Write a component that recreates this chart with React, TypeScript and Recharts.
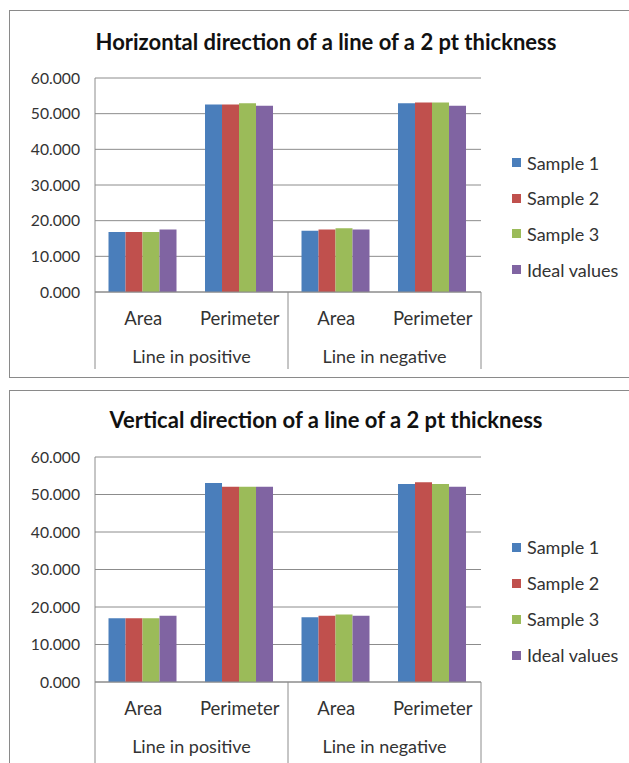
import { BarChart, Bar, XAxis, YAxis, CartesianGrid, Legend } from 'recharts'

const categories = ['Area', 'Perimeter', 'Area', 'Perimeter']
const groups = ['Line in positive', 'Line in positive', 'Line in negative', 'Line in negative']
const seriesNames = ['Sample 1', 'Sample 2', 'Sample 3', 'Ideal values']
const seriesColors = ['#4a7ebb', '#c0504d', '#9bbb59', '#8064a2']
const yTicks = [0, 10, 20, 30, 40, 50, 60]

// horizontal line, 2 pt
const hSample1 = [16.8, 52.6, 17.2, 52.9]
const hSample2 = [16.8, 52.6, 17.5, 53.1]
const hSample3 = [16.8, 52.9, 17.85, 53.1]
const hIdeal = [17.5, 52.2, 17.5, 52.2]

// vertical line, 2 pt
const vSample1 = [17.0, 53.1, 17.3, 52.8]
const vSample2 = [17.0, 52.1, 17.7, 53.3]
const vSample3 = [17.0, 52.1, 18.0, 52.8]
const vIdeal = [17.7, 52.1, 17.7, 52.1]

const FONT = 'Lato, "Open Sans", sans-serif'
const GRID = '#8c8c8c'
const CHART_W = 620
const PLOT_LEFT = 85
const PLOT_W = 386
const BAND = PLOT_W / categories.length

const buildRows = (s1: number[], s2: number[], s3: number[], ideal: number[]) =>
  categories.map((c, i) => ({
    metric: c,
    group: groups[i],
    s1: s1[i],
    s2: s2[i],
    s3: s3[i],
    ideal: ideal[i],
  }))

const keys = ['s1', 's2', 's3', 'ideal']

const MultiTick = (props: any) => {
  const { x, y, payload, index, sepLength } = props
  const half = BAND / 2
  return (
    <g>
      <text x={x} y={y + 26} textAnchor="middle" dominantBaseline="central" fill="#333" fontSize={18.5} fontFamily={FONT}>
        {payload.value}
      </text>
      {index % 2 === 0 && (
        <text x={x + half} y={y + 64} textAnchor="middle" dominantBaseline="central" fill="#333" fontSize={18} fontFamily={FONT}>
          {groups[index]}
        </text>
      )}
      {index === 0 && <line x1={x - half} x2={x - half} y1={y} y2={y + sepLength} stroke={GRID} />}
      {index % 2 === 1 && <line x1={x + half} x2={x + half} y1={y} y2={y + sepLength} stroke={GRID} />}
    </g>
  )
}

const LegendBox = ({ payload, spacing }: any) => {
  const items = [...(payload || [])].sort(
    (a: any, b: any) => seriesNames.indexOf(a.value) - seriesNames.indexOf(b.value),
  )
  return (
    <div style={{ fontFamily: FONT, fontSize: 18, color: '#333' }}>
      {items.map((p: any) => (
        <div key={p.value} style={{ height: spacing, display: 'flex', alignItems: 'center', whiteSpace: 'nowrap' }}>
          <span style={{ width: 9, height: 9, background: p.color, marginRight: 6, display: 'inline-block' }} />
          {p.value}
        </div>
      ))}
    </div>
  )
}

type ChartProps = {
  title: string
  rows: any[]
  top: number
  height: number
  boxHeight: number
  plotTop: number
  plotBottom: number
  titleY: number
  legendTop: number
  legendSpacing: number
  sepLength: number
}

const Chart = ({ title, rows, top, height, boxHeight, plotTop, plotBottom, titleY, legendTop, legendSpacing, sepLength }: ChartProps) => (
  <div
    style={{
      position: 'absolute',
      left: 9,
      top,
      width: 640,
      height: boxHeight,
      border: '1px solid #8a8a8a',
      background: '#fff',
    }}
  >
    <div
      style={{
        position: 'absolute',
        left: 0,
        width: CHART_W + 12,
        top: titleY - 14,
        height: 28,
        lineHeight: '28px',
        textAlign: 'center',
        fontFamily: FONT,
        fontWeight: 700,
        fontSize: 22,
        color: '#111',
      }}
    >
      {title}
    </div>
    <BarChart
      width={CHART_W}
      height={height}
      data={rows}
      barGap={0}
      barCategoryGap="14%"
      margin={{ top: plotTop, right: CHART_W - PLOT_LEFT - PLOT_W, bottom: 0, left: 5 }}
    >
      <CartesianGrid vertical={false} stroke={GRID} />
      <XAxis
        dataKey="metric"
        interval={0}
        tickLine={false}
        tickSize={0}
        tickMargin={0}
        height={height - plotBottom}
        axisLine={{ stroke: GRID }}
        tick={(p: any) => <MultiTick {...p} sepLength={sepLength} />}
      />
      <YAxis
        width={80}
        domain={[0, 60]}
        ticks={yTicks}
        interval={0}
        tickLine={false}
        tickMargin={9}
        axisLine={{ stroke: GRID }}
        tickFormatter={(v: number) => v.toFixed(3)}
        tick={{ fill: '#333', fontSize: 15.7, fontFamily: FONT }}
      />
      <Legend
        layout="vertical"
        align="center"
        verticalAlign="middle"
        wrapperStyle={{ left: 502, top: legendTop, width: 130 }}
        content={(p: any) => <LegendBox payload={p.payload} spacing={legendSpacing} />}
      />
      {keys.map((k, i) => (
        <Bar key={k} dataKey={k} name={seriesNames[i]} fill={seriesColors[i]} isAnimationActive={false} />
      ))}
    </BarChart>
  </div>
)

export default function App() {
  return (
    <div
      style={{
        position: 'absolute',
        left: 0,
        top: 0,
        width: 629,
        height: 763,
        overflow: 'hidden',
        background: '#fff',
      }}
    >
      <Chart
        title="Horizontal direction of a line of a 2 pt thickness"
        rows={buildRows(hSample1, hSample2, hSample3, hIdeal)}
        top={10}
        height={366}
        boxHeight={366}
        plotTop={67}
        plotBottom={281}
        titleY={31}
        legendTop={134}
        legendSpacing={35.6}
        sepLength={77}
      />
      <Chart
        title="Vertical direction of a line of a 2 pt thickness"
        rows={buildRows(vSample1, vSample2, vSample3, vIdeal)}
        top={390}
        height={390}
        boxHeight={400}
        plotTop={66}
        plotBottom={291}
        titleY={29}
        legendTop={138}
        legendSpacing={36}
        sepLength={100}
      />
    </div>
  )
}
